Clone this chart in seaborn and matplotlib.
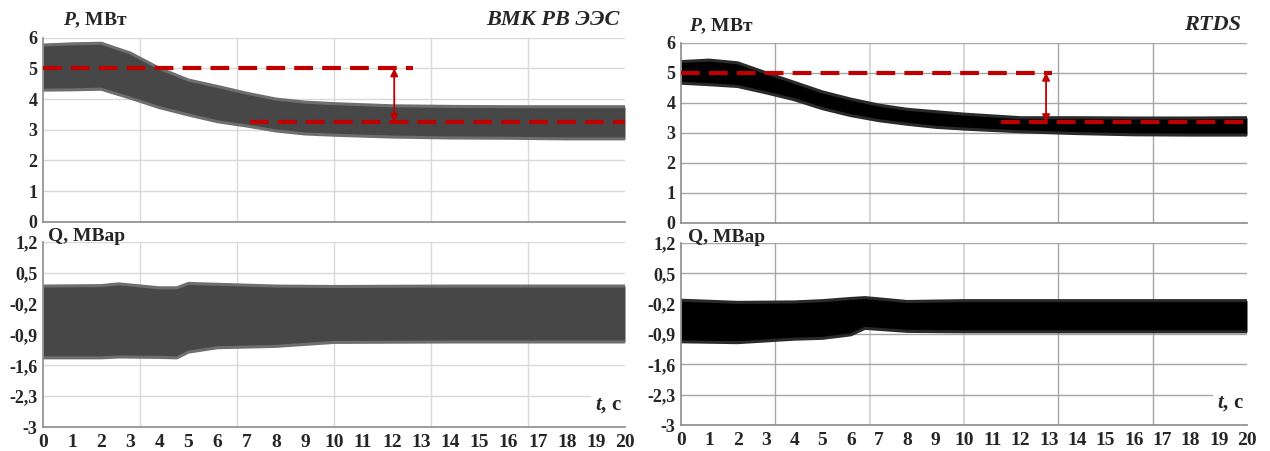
import numpy as np
import pandas as pd
import matplotlib
matplotlib.use('agg')
import matplotlib.pyplot as plt
import seaborn as sns

# envelope of the oscillating signals
t_p_vmk = [0, 1, 2, 3, 4, 5, 6, 7, 8, 9, 10, 12, 14, 16, 18, 20]
p_vmk_hi = [5.76, 5.80, 5.82, 5.50, 5.00, 4.62, 4.41, 4.19, 4.00, 3.90, 3.85, 3.78, 3.76, 3.75, 3.75, 3.75]
p_vmk_lo = [4.29, 4.30, 4.32, 4.03, 3.72, 3.48, 3.26, 3.12, 2.96, 2.86, 2.82, 2.76, 2.73, 2.72, 2.70, 2.70]

t_q_vmk = [0, 2, 2.6, 4, 4.6, 5, 6, 8, 10, 14, 20]
q_vmk_hi = [0.20, 0.21, 0.25, 0.16, 0.16, 0.26, 0.24, 0.20, 0.19, 0.20, 0.20]
q_vmk_lo = [-1.43, -1.43, -1.41, -1.42, -1.43, -1.30, -1.20, -1.17, -1.08, -1.07, -1.07]

t_p_rtds = [0, 1, 2, 3, 4, 5, 6, 7, 8, 9, 10, 12, 14, 16, 18, 20]
p_rtds_hi = [5.37, 5.42, 5.33, 5.00, 4.68, 4.36, 4.12, 3.92, 3.78, 3.70, 3.62, 3.50, 3.50, 3.49, 3.49, 3.50]
p_rtds_lo = [4.65, 4.60, 4.54, 4.33, 4.10, 3.80, 3.57, 3.40, 3.28, 3.18, 3.12, 3.03, 2.97, 2.93, 2.92, 2.92]

t_q_rtds = [0, 2, 4, 5, 6, 6.5, 8, 10, 20]
q_rtds_hi = [-0.12, -0.17, -0.16, -0.13, -0.08, -0.06, -0.15, -0.13, -0.13]
q_rtds_lo = [-1.08, -1.10, -1.02, -1.00, -0.92, -0.77, -0.84, -0.85, -0.85]

# steady-state levels: [level, t_from, t_to], arrow time
vmk_start = [5.0, 0, 12.7]
vmk_end = [3.25, 7.1, 20]
vmk_arrow_t = 12.07
rtds_start = [5.0, 0, 13.1]
rtds_end = [3.35, 11.3, 20]
rtds_arrow_t = 12.9

p_ticks = [0, 1, 2, 3, 4, 5, 6]
q_ticks = [-3, -2.3, -1.6, -0.9, -0.2, 0.5, 1.2]
q_ticklabels = ['-3', '-2,3', '-1,6', '-0,9', '-0,2', '0,5', '1,2']
t_ticks = list(range(0, 21))

sns.set_style('white')
plt.rcParams['font.family'] = ['Liberation Serif', 'DejaVu Serif']
plt.rcParams['font.weight'] = 'bold'
plt.rcParams['mathtext.fontset'] = 'custom'
plt.rcParams['mathtext.it'] = 'Liberation Serif:italic:bold'
plt.rcParams['mathtext.rm'] = 'Liberation Serif:bold'

RED = '#c00000'


def style_axes(ax, grid_color, vgrid_colors, ylim, yticks, yticklabels, show_x):
    ax.set_xlim(0, 20)
    ax.set_ylim(*ylim)
    ax.set_yticks(yticks)
    ax.set_yticklabels(yticklabels, fontsize=13, fontweight='bold')
    ax.set_xticks(t_ticks)
    if show_x:
        ax.set_xticklabels([str(v) for v in t_ticks], fontsize=14, fontweight='bold')
    else:
        ax.set_xticklabels([])
    ax.tick_params(axis='both', which='both', length=0, pad=4)
    ax.tick_params(axis='x', pad=5)
    ax.grid(False)
    ax.grid(True, axis='y', which='major', color=grid_color, lw=1)
    for k, c in enumerate(vgrid_colors, start=1):
        ax.axvline(k * 20 / 6, color=c, lw=1.3 if c != grid_color else 1, zorder=0.5)
    for s in ['top', 'right']:
        ax.spines[s].set_visible(False)
    for s in ['left', 'bottom']:
        ax.spines[s].set_color('#8c8c8c')
        ax.spines[s].set_linewidth(1.2)
    ax.set_xlabel('')
    ax.set_ylabel('')
    ax.set_axisbelow(True)


def band(ax, t, hi, lo, color, edge):
    ax.fill_between(t, lo, hi, color=color, lw=0, zorder=2)
    df = pd.DataFrame({'t': t + t, 'v': hi + lo, 'side': ['hi'] * len(t) + ['lo'] * len(t)})
    sns.lineplot(data=df, x='t', y='v', units='side', estimator=None, color=edge,
                 lw=2.2, ax=ax, zorder=2)


def level_lines(ax, start, end, arrow_t):
    for lev, a, b in (start, end):
        sns.lineplot(x=[a, b], y=[lev, lev], color=RED, lw=3, ax=ax, zorder=3,
                     dashes=False, linestyle=(0, (4.5, 2.2)))
    ax.annotate('', xy=(arrow_t, end[0]), xytext=(arrow_t, start[0]),
                arrowprops=dict(arrowstyle='<|-|>', color=RED, lw=1.3,
                                mutation_scale=11, shrinkA=0, shrinkB=0), zorder=4)


fig = plt.figure(figsize=(12.7, 4.51), dpi=100)

panels = [
    dict(x0=43, x1=625, p=(37.7, 221.7), q=(242, 427), grid='#d9d9d9',
         vgrid=['#d9d9d9'] * 5,
         band='#474747', edge='#6e6e6e',
         tp=t_p_vmk, phi=p_vmk_hi, plo=p_vmk_lo,
         tq=t_q_vmk, qhi=q_vmk_hi, qlo=q_vmk_lo,
         start=vmk_start, end=vmk_end, arrow=vmk_arrow_t,
         title='ВМК РВ ЭЭС', plab_x=0.035, qlab_x=0.008),
    dict(x0=681, x1=1247, p=(42.7, 222.7), q=(243, 425), grid='#a6a6a6',
         vgrid=['#a6a6a6', '#d4d4d4', '#d4d4d4', '#a6a6a6', '#a6a6a6'],
         band='#000000', edge='#2a2a2a',
         tp=t_p_rtds, phi=p_rtds_hi, plo=p_rtds_lo,
         tq=t_q_rtds, qhi=q_rtds_hi, qlo=q_rtds_lo,
         start=rtds_start, end=rtds_end, arrow=rtds_arrow_t,
         title='RTDS', plab_x=0.014, qlab_x=0.012),
]

W, H = 1270, 451
for pn in panels:
    left = pn['x0'] / W
    width = (pn['x1'] - pn['x0']) / W
    axp = fig.add_axes([left, 1 - pn['p'][1] / H, width, (pn['p'][1] - pn['p'][0]) / H])
    axq = fig.add_axes([left, 1 - pn['q'][1] / H, width, (pn['q'][1] - pn['q'][0]) / H])

    band(axp, pn['tp'], pn['phi'], pn['plo'], pn['band'], pn['edge'])
    level_lines(axp, pn['start'], pn['end'], pn['arrow'])
    style_axes(axp, pn['grid'], pn['vgrid'], (0, 6), p_ticks, [str(v) for v in p_ticks], False)

    band(axq, pn['tq'], pn['qhi'], pn['qlo'], pn['band'], pn['edge'])
    style_axes(axq, pn['grid'], pn['vgrid'], (-3, 1.2), q_ticks, q_ticklabels, True)

    axp.text(pn['plab_x'], 1.04, r'$P$, МВт', transform=axp.transAxes,
             fontsize=14, fontweight='bold', ha='left', va='bottom')
    axp.text(0.99, 1.04, pn['title'], transform=axp.transAxes, fontsize=16,
             fontweight='bold', fontstyle='italic', ha='right', va='bottom')
    axq.text(pn['qlab_x'], 0.985, 'Q, МВар', transform=axq.transAxes,
             fontsize=14, fontweight='bold', ha='left', va='bottom')
    axq.text(0.995, 0.12, r'$t$, с', transform=axq.transAxes, fontsize=15,
             fontweight='bold', ha='right', va='center',
             bbox=dict(facecolor='white', edgecolor='none', pad=3), zorder=5)

fig.savefig('out.png', dpi=100)
